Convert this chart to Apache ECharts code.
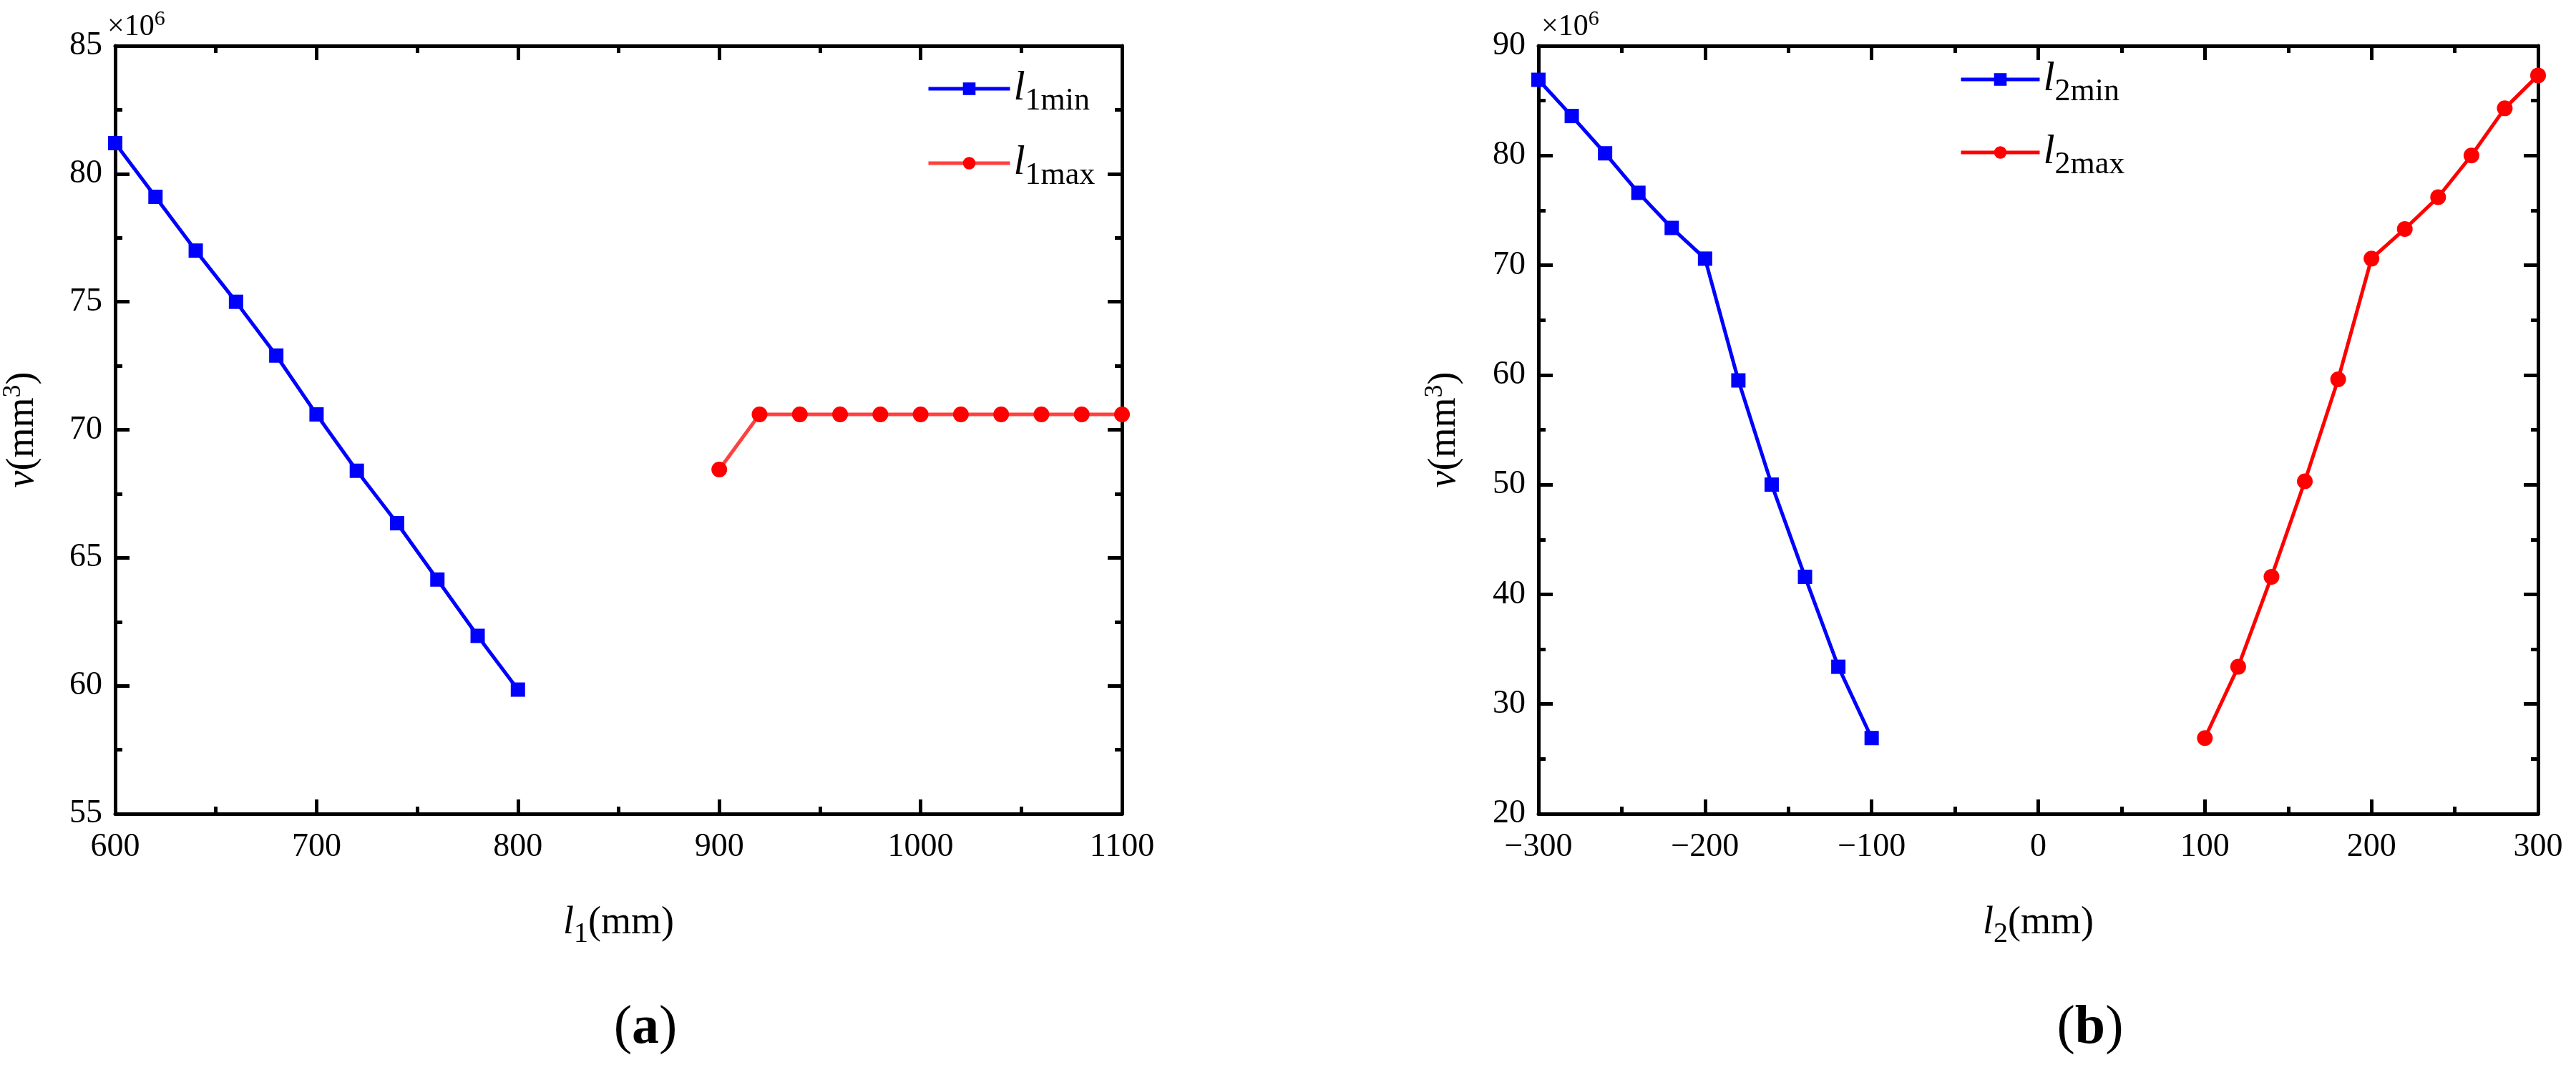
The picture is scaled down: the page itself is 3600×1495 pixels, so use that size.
<!DOCTYPE html>
<html><head><meta charset="utf-8">
<script src="https://cdn.jsdelivr.net/npm/echarts@6/dist/echarts.min.js"></script>
<style>html,body{margin:0;padding:0;background:#fff}#c{width:3600px;height:1495px}</style>
</head><body><div id="c"></div>
<script>
const x1min = [600,620,640,660,680,700,720,740,760,780,800];
const v1min = [81.2,79.1,77.0,75.0,72.9,70.6,68.4,66.35,64.15,61.95,59.85];
const x1max = [900,920,940,960,980,1000,1020,1040,1060,1080,1100];
const v1max = [68.45,70.6,70.6,70.6,70.6,70.6,70.6,70.6,70.6,70.6,70.6];
const x2min = [-300,-280,-260,-240,-220,-200,-180,-160,-140,-120,-100];
const v2min = [86.9,83.6,80.2,76.6,73.4,70.6,59.5,50.0,41.6,33.4,26.9];
const x2max = [100,120,140,160,180,200,220,240,260,280,300];
const v2max = [26.9,33.4,41.6,50.3,59.6,70.6,73.3,76.2,80.0,84.3,87.3];

const F = "'Liberation Serif'";
const pair = (xs, vs) => xs.map((x,i)=>[x,vs[i]]);
const rich = {
  i:{fontFamily:F,fontStyle:'italic',fontSize:54,color:'#000'},
  n:{fontFamily:F,fontSize:54,color:'#000'},
  s:{fontFamily:F,fontSize:40,color:'#000',padding:[30,0,0,0]},
  sup:{fontFamily:F,fontSize:36,color:'#000',padding:[0,0,26,0]}
};
const lrich = {
  i:{fontFamily:F,fontStyle:'italic',fontSize:58,color:'#000'},
  s:{fontFamily:F,fontSize:44,color:'#000',padding:[34,0,0,0]}
};
const fmt = v => String(v).replace('-', '\u2212');
function xa(gi,min,max,pos,show){
  return {type:'value',gridIndex:gi,min,max,interval:100,position:pos,
    axisLine:{show:true,onZero:false,lineStyle:{color:'#000',width:5}},
    axisTick:{show:true,inside:true,length:20,lineStyle:{color:'#000',width:5}},
    minorTick:{show:true,splitNumber:2,length:10,lineStyle:{color:'#000',width:5}},
    splitLine:{show:false},
    axisLabel:{show:show,fontFamily:F,fontSize:46,color:'#000',margin:24,formatter:fmt},
    name: show ? (gi===0?'{i|l}{s|1}{n|(mm)}':'{i|l}{s|2}{n|(mm)}') : '',
    nameLocation:'middle',nameGap:118,nameTextStyle:{rich}};
}
function ya(gi,min,max,iv,pos,show){
  return {type:'value',gridIndex:gi,min,max,interval:iv,position:pos,
    axisLine:{show:true,onZero:false,lineStyle:{color:'#000',width:5}},
    axisTick:{show:true,inside:true,length:20,lineStyle:{color:'#000',width:5}},
    minorTick:{show:true,splitNumber:2,length:10,lineStyle:{color:'#000',width:5}},
    splitLine:{show:false},
    axisLabel:{show:show,fontFamily:F,fontSize:46,color:'#000',margin:18,formatter:fmt},
    name: show ? '{i|v}{n|(mm}{sup|3}{n|)}' : '',
    nameLocation:'middle',nameGap:gi===0?98:100,nameTextStyle:{rich}};
}
const chart = echarts.init(document.getElementById('c'),null,{renderer:'canvas'});
chart.setOption({
  backgroundColor:'#fff',
  animation:false,
  grid:[{left:146,top:64,width:1422,height:1073},{left:2150,top:64,width:1397,height:1073}],
  xAxis:[xa(0,600,1100,'bottom',true),xa(0,600,1100,'top',false),xa(1,-300,300,'bottom',true),xa(1,-300,300,'top',false)],
  yAxis:[ya(0,55,85,5,'left',true),ya(0,55,85,5,'right',false),ya(1,20,90,10,'left',true),ya(1,20,90,10,'right',false)],
  legend:[
    {left:1290,top:90,orient:'vertical',itemWidth:114,itemHeight:22,itemGap:36,
     lineStyle:{width:5},
     data:['l1min','l1max'],formatter:n=>'{i|l}{s|'+n.slice(1)+'}',textStyle:{rich:lrich}},
    {left:2733,top:77,orient:'vertical',itemWidth:110,itemHeight:22,itemGap:34,
     lineStyle:{width:5},
     data:['l2min','l2max'],formatter:n=>'{i|l}{s|'+n.slice(1)+'}',textStyle:{rich:lrich}}
  ],
  series:[
    {name:'l1min',type:'line',xAxisIndex:0,yAxisIndex:0,data:pair(x1min,v1min),symbol:'rect',symbolSize:20,
     lineStyle:{color:'#0000ff',width:5},itemStyle:{color:'#0000ff'},clip:false},
    {name:'l1max',type:'line',xAxisIndex:0,yAxisIndex:0,data:pair(x1max,v1max),symbol:'circle',symbolSize:22,
     lineStyle:{color:'#ff4040',width:5},itemStyle:{color:'#ff0000'},clip:false},
    {name:'l2min',type:'line',xAxisIndex:2,yAxisIndex:2,data:pair(x2min,v2min),symbol:'rect',symbolSize:20,
     lineStyle:{color:'#0000ff',width:5},itemStyle:{color:'#0000ff'},clip:false},
    {name:'l2max',type:'line',xAxisIndex:2,yAxisIndex:2,data:pair(x2max,v2max),symbol:'circle',symbolSize:22,
     lineStyle:{color:'#ff0000',width:5},itemStyle:{color:'#ff0000'},clip:false}
  ],
  graphic:[
    {type:'text',left:150,top:12,style:{text:'{a|×10}{b|6}',rich:{a:{fontFamily:F,fontSize:42,color:'#000'},b:{fontFamily:F,fontSize:30,color:'#000',padding:[0,0,22,0]}}}},
    {type:'text',left:2154,top:12,style:{text:'{a|×10}{b|6}',rich:{a:{fontFamily:F,fontSize:42,color:'#000'},b:{fontFamily:F,fontSize:30,color:'#000',padding:[0,0,22,0]}}}},
    {type:'text',x:902,y:1437,style:{text:'{p|(}{b|a}{p|)}',align:'center',verticalAlign:'middle',rich:{p:{fontFamily:F,fontSize:76,color:'#000'},b:{fontFamily:F,fontSize:76,fontWeight:'bold',color:'#000'}}}},
    {type:'text',x:2921,y:1437,style:{text:'{p|(}{b|b}{p|)}',align:'center',verticalAlign:'middle',rich:{p:{fontFamily:F,fontSize:76,color:'#000'},b:{fontFamily:F,fontSize:76,fontWeight:'bold',color:'#000'}}}}
  ]
});
</script></body></html>
